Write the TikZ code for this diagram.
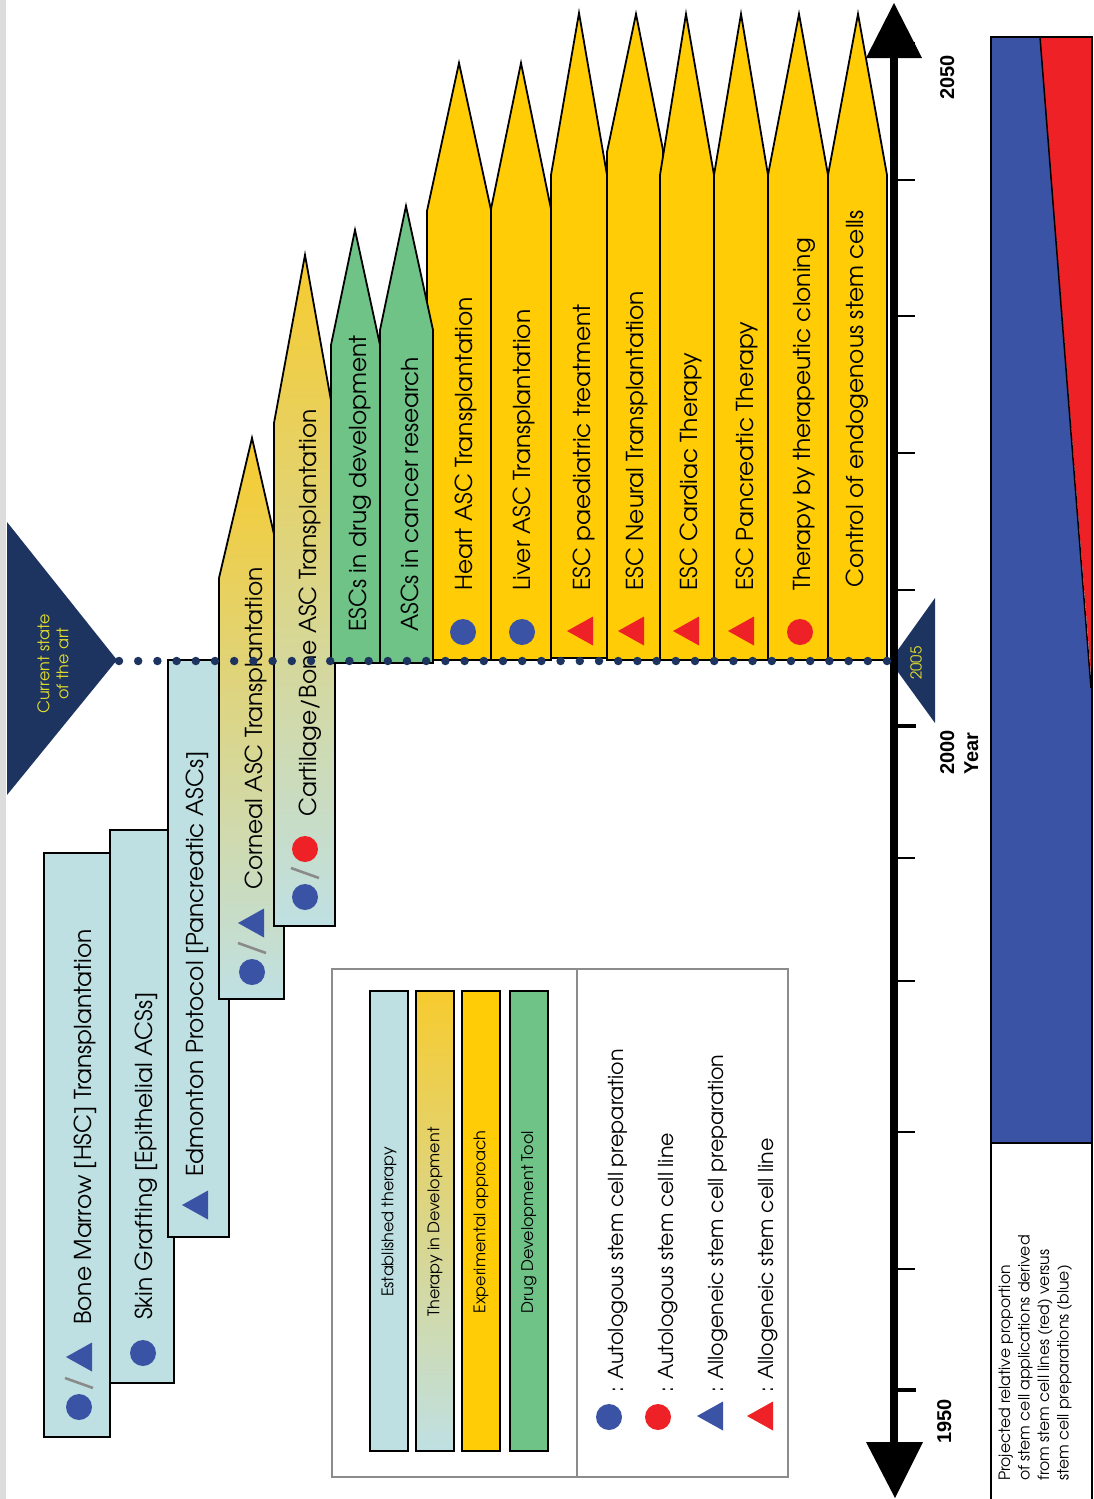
\documentclass[tikz,border=0pt]{standalone}
\usepackage{fontspec}
\setmainfont{texgyreadventor-regular.otf}[BoldFont=texgyreadventor-bold.otf]
\newfontfamily\axisfont{Liberation Sans}
\definecolor{estb}{HTML}{BEE0E3}
\definecolor{expy}{HTML}{FFCC05}
\definecolor{drugg}{HTML}{6FC386}
\definecolor{navyc}{HTML}{1D3461}
\definecolor{symblue}{HTML}{3A53A4}
\definecolor{symred}{HTML}{EE2226}
\definecolor{gradtop}{HTML}{F7CB2E}
\definecolor{gradbot}{HTML}{BFE0E3}
\definecolor{labyel}{HTML}{E3DE2B}
\definecolor{framegray}{HTML}{8C8C8C}
\definecolor{stripgray}{HTML}{DCDCDC}
\definecolor{slashgray}{HTML}{8A8A8A}
\tikzset{
  boxline/.style={draw=black, line width=1.8pt, line join=miter},
  estbox/.style={boxline, fill=estb},
  devbox/.style={boxline, top color=gradtop, bottom color=gradbot},
  expbox/.style={boxline, fill=expy},
  drugbox/.style={boxline, fill=drugg},
  legbar/.style={draw=black, line width=2.2pt},
  biglab/.style={rotate=90, anchor=base west, inner sep=0pt, font=\fontsize{23.3}{28}\selectfont},
  leglab/.style={rotate=90, anchor=base west, inner sep=0pt, font=\fontsize{20.6}{24}\selectfont},
  barlab/.style={rotate=90, anchor=center, inner sep=0pt, font=\fontsize{16}{19}\selectfont},
  notelab/.style={rotate=90, anchor=base west, inner sep=0pt, font=\fontsize{15.6}{18}\selectfont},
  axlab/.style={rotate=90, anchor=base west, inner sep=0pt, font=\axisfont\bfseries\fontsize{20}{24}\selectfont},
  thintick/.style={line width=2pt},
  thicktick/.style={line width=4pt},
}
\newcommand\symcirc[3]{\fill[#1] (#2,#3) circle (13);}
\newcommand\symtri[3]{\fill[#1] (#2-13,#3) -- (#2+13,#3-14.5) -- (#2+13,#3+14.5) -- cycle;}
\newcommand\symslash[2]{\draw[slashgray, line width=2.6pt] (#1+14,#2+5) -- (#1-14,#2-5);}
\begin{document}
\begin{tikzpicture}[x=1pt,y=-1pt]
\useasboundingbox (0,0) rectangle (1094,1499);
\clip (0,0) rectangle (1094,1499);
\fill[white] (0,0) rectangle (1094,1499);
\fill[stripgray] (0,0) rectangle (6,1499);

% current state of the art marker
\fill[navyc] (7,522) -- (117,660) -- (7,795) -- cycle;
\coordinate (csapex) at (119,661);
\node[rotate=90, align=center, text=labyel, font=\fontsize{16}{19}\selectfont, inner sep=0pt] (cstext) at (53,664) {Current state\\of the art};

% established therapies
\path[estbox] (44,853) rectangle (110,1437);
\path[estbox] (110,830) rectangle (174,1383);
\path[estbox] (168,660) rectangle (229,1237);
% therapies in development
\path[devbox] (219,999) -- (219,578) -- (252,438) -- (284,578) -- (284,999) -- cycle;
\path[devbox] (274,926) -- (274,423) -- (305,255) -- (335,423) -- (335,926) -- cycle;
% experimental approaches
\path[expbox] (427,660) -- (427,211) -- (459,63) -- (491,210) -- (491,660) -- cycle;
\path[expbox] (491,660) -- (491,209) -- (521,63) -- (551,209) -- (551,660) -- cycle;
\path[expbox] (551,658) -- (551,175) -- (579,13) -- (607,175) -- (607,658) -- cycle;
\path[expbox] (607,660) -- (607,152) -- (636,14) -- (663,150) -- (663,660) -- cycle;
\path[expbox] (660,660) -- (660,175) -- (686,14) -- (714,175) -- (714,660) -- cycle;
\path[expbox] (714,660) -- (714,175) -- (741,14) -- (768,175) -- (768,660) -- cycle;
\path[expbox] (768,660) -- (768,175) -- (799,14) -- (828,175) -- (828,660) -- cycle;
\path[expbox] (828,660) -- (828,175) -- (858,14) -- (887,175) -- (887,660) -- cycle;
% drug development tools
\path[drugbox] (331,663) -- (331,345) -- (355,230) -- (380,345) -- (380,663) -- cycle;
\path[drugbox] (380,663) -- (380,330) -- (406,206) -- (433,330) -- (433,663) -- cycle;

% symbols
\symcirc{symblue}{79}{1407}\symslash{79}{1383}\symtri{symblue}{79}{1357}
\symcirc{symblue}{143}{1353}
\symtri{symblue}{195}{1205}
\symcirc{symblue}{252}{972}\symslash{252}{948}\symtri{symblue}{251}{923}
\symcirc{symblue}{305}{897}\symslash{305}{873}\symcirc{symred}{305}{849}
\symcirc{symblue}{463}{632}
\symcirc{symblue}{522}{632}
\symtri{symred}{580}{631}
\symtri{symred}{631}{631}
\symtri{symred}{686}{631}
\symtri{symred}{741}{631}
\symcirc{symred}{800}{632}

% labels
\node[biglab] (bm) at (91,1325) {Bone Marrow [HSC] Transplantation};
\node[biglab] (sk) at (152,1320) {Skin Grafting [Epithelial ACSs]};
\node[biglab] (ed) at (203,1177) {Edmonton Protocol [Pancreatic ASCs]};
\node[biglab] (co) at (262,890) {Corneal ASC Transplantation};
\node[biglab] (ca) at (316,817) {Cartilage/Bone ASC Transplantation};
\node[biglab] (dd) at (366,632) {ESCs in drug development};
\node[biglab] (cr) at (418,632) {ASCs in cancer research};
\node[biglab] (ht) at (472,591) {Heart ASC Transplantation};
\node[biglab] (lv) at (530,591) {Liver ASC Transplantation};
\node[biglab] (pd) at (590,591) {ESC paediatric treatment};
\node[biglab] (nt) at (643,591) {ESC Neural Transplantation};
\node[biglab] (cd) at (697,591) {ESC Cardiac Therapy};
\node[biglab] (pc) at (753,591) {ESC Pancreatic Therapy};
\node[biglab] (cl) at (810,591) {Therapy by therapeutic cloning};
\node[biglab] (ce) at (863,588) {Control of endogenous stem cells};

% 2005 marker
\fill[navyc] (935,598) -- (890,661) -- (935,723) -- cycle;
\coordinate (t05apex) at (890,661);
\node[rotate=90, text=labyel, font=\fontsize{15}{18}\selectfont, inner sep=0pt] (t05) at (916,663) {2005};

% time axis
\draw[line width=8pt] (894,58) -- (894,1442);
\foreach \ty in {43,180,316,453,590,858,981,1132,1269} {\draw[thintick] (894,\ty) -- (915,\ty);}
\foreach \ty in {726,1390} {\draw[thicktick] (894,\ty) -- (916,\ty);}
\fill[black] (894,3) -- (922,58) -- (866,58) -- cycle;
\fill[black] (895,1498) -- (923,1442) -- (866,1442) -- cycle;
\node[axlab] (l2050) at (954,100) {2050};
\node[axlab] (l2000) at (954,775) {2000};
\node[axlab] (lyear) at (978,775) {Year};
\node[axlab] (l1950) at (951,1444) {1950};

% dotted "now" line
\draw[navyc, line width=8.5pt, line cap=round, dash pattern=on 0pt off 19.2pt] (csapex) -- (t05apex);

% legend
\draw[framegray, line width=2pt] (332,969) rectangle (788,1477);
\draw[framegray, line width=2pt] (577,969) -- (577,1477);
\path[legbar, fill=estb] (370,991) rectangle (408,1451);
\path[legbar, top color=gradtop, bottom color=gradbot] (416,991) rectangle (454,1451);
\path[legbar, fill=expy] (462,991) rectangle (500,1451);
\path[legbar, fill=drugg] (510,991) rectangle (548,1451);
\node[barlab] (lb1) at (389,1222) {Established therapy};
\node[barlab] (lb2) at (435,1222) {Therapy in Development};
\node[barlab] (lb3) at (481,1222) {Experimental approach};
\node[barlab] (lb4) at (529,1222) {Drug Development Tool};
\symcirc{symblue}{609}{1417}
\symcirc{symred}{658}{1417}
\symtri{symblue}{710}{1416}
\symtri{symred}{760}{1416}
\node[leglab] (ls1) at (623,1393) {: Autologous stem cell preparation};
\node[leglab] (ls2) at (673,1393) {: Autologous stem cell line};
\node[leglab] (ls3) at (723,1393) {: Allogeneic stem cell preparation};
\node[leglab] (ls4) at (773,1393) {: Allogeneic stem cell line};

% projected proportion panel
\fill[symblue] (991,37) -- (1040,37) -- (1091,688) -- (1091,1143) -- (991,1143) -- cycle;
\fill[symred] (1040,37) -- (1092,37) -- (1092,688) -- cycle;
\draw[line width=1.5pt] (1040,37) -- (1091,688);
\draw[line width=2pt] (991,1143) -- (1092,1143);
\draw[line width=2.4pt] (991,1510) -- (991,37) -- (1092,37) -- (1092,1510);
\node[notelab] (n1) at (1010,1481) {Projected relative proportion};
\node[notelab] (n2) at (1029.5,1481) {of stem cell applications derived};
\node[notelab] (n3) at (1049,1481) {from stem cell lines (red) versus};
\node[notelab] (n4) at (1068.5,1481) {stem cell preparations (blue)};
\end{tikzpicture}
\end{document}
